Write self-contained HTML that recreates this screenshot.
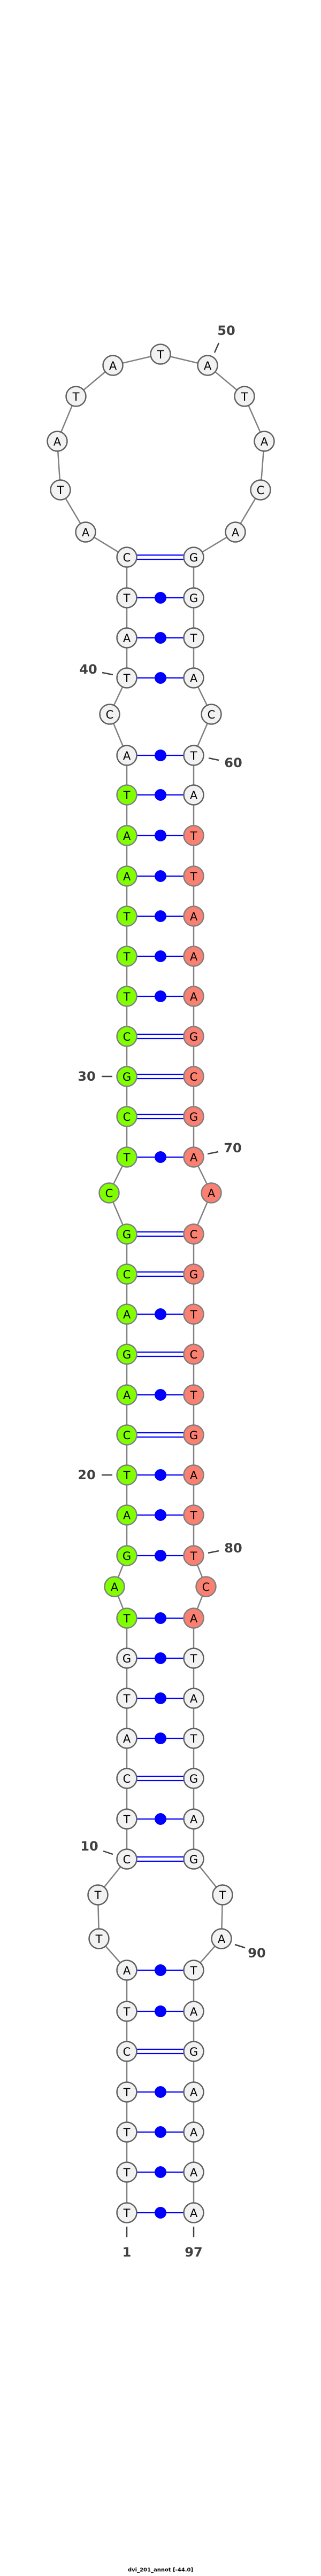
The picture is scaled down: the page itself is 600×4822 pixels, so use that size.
<!DOCTYPE html>
<html><head><meta charset="utf-8"><style>
html,body{margin:0;padding:0;background:#fff}
svg{display:block}
.n{fill:#f2f2f2;stroke:#606060;stroke-width:2.5}
.g{fill:#7fff00;stroke:#808080;stroke-width:2.5}
.s{fill:#fa8072;stroke:#808080;stroke-width:2.5}
.l{font-family:"DejaVu Sans","Liberation Sans",sans-serif;font-size:21px;text-anchor:middle;dominant-baseline:central;fill:#000}
.lb{font-family:"DejaVu Sans","Liberation Sans",sans-serif;font-weight:bold;font-size:24px;text-anchor:middle;dominant-baseline:central;fill:#404040}
.bb{fill:none;stroke:#808080;stroke-width:2.5}
.p{stroke:#0000ff;stroke-width:2.2}
.tk{stroke:#404040;stroke-width:2.5}
</style></head><body>
<svg width="600" height="4822" viewBox="0 0 600 4822" xmlns="http://www.w3.org/2000/svg">
<polyline class="bb" points="237,4142 237,3688 185,3629 183,3547 237,3480 237,3029 214,2970 237,2912 237,2310 204,2233 237,2166 237,1414 205,1337 237,1269 237,1043 160,996 113,917 107,826 142,742 211,684 300,663 388,684 457,742 494,826 487,917 440,996 362,1043 362,1269 395,1337 362,1414 362,2166 395,2233 362,2310 362,2912 385,2970 362,3029 362,3480 416,3547 414,3629 362,3688 362,4142"/>
<g class="p">
<line x1="237" y1="1039" x2="362" y2="1039"/><line x1="237" y1="1047" x2="362" y2="1047"/>
<line x1="237" y1="1119" x2="362" y2="1119"/>
<line x1="237" y1="1194" x2="362" y2="1194"/>
<line x1="237" y1="1269" x2="362" y2="1269"/>
<line x1="237" y1="1414" x2="362" y2="1414"/>
<line x1="237" y1="1488" x2="362" y2="1488"/>
<line x1="237" y1="1564" x2="362" y2="1564"/>
<line x1="237" y1="1640" x2="362" y2="1640"/>
<line x1="237" y1="1715" x2="362" y2="1715"/>
<line x1="237" y1="1790" x2="362" y2="1790"/>
<line x1="237" y1="1865" x2="362" y2="1865"/>
<line x1="237" y1="1936" x2="362" y2="1936"/><line x1="237" y1="1944" x2="362" y2="1944"/>
<line x1="237" y1="2011" x2="362" y2="2011"/><line x1="237" y1="2019" x2="362" y2="2019"/>
<line x1="237" y1="2086" x2="362" y2="2086"/><line x1="237" y1="2094" x2="362" y2="2094"/>
<line x1="237" y1="2166" x2="362" y2="2166"/>
<line x1="237" y1="2306" x2="362" y2="2306"/><line x1="237" y1="2314" x2="362" y2="2314"/>
<line x1="237" y1="2381" x2="362" y2="2381"/><line x1="237" y1="2389" x2="362" y2="2389"/>
<line x1="237" y1="2460" x2="362" y2="2460"/>
<line x1="237" y1="2531" x2="362" y2="2531"/><line x1="237" y1="2539" x2="362" y2="2539"/>
<line x1="237" y1="2611" x2="362" y2="2611"/>
<line x1="237" y1="2682" x2="362" y2="2682"/><line x1="237" y1="2690" x2="362" y2="2690"/>
<line x1="237" y1="2761" x2="362" y2="2761"/>
<line x1="237" y1="2836" x2="362" y2="2836"/>
<line x1="237" y1="2912" x2="362" y2="2912"/>
<line x1="237" y1="3029" x2="362" y2="3029"/>
<line x1="237" y1="3104" x2="362" y2="3104"/>
<line x1="237" y1="3179" x2="362" y2="3179"/>
<line x1="237" y1="3254" x2="362" y2="3254"/>
<line x1="237" y1="3325" x2="362" y2="3325"/><line x1="237" y1="3333" x2="362" y2="3333"/>
<line x1="237" y1="3405" x2="362" y2="3405"/>
<line x1="237" y1="3476" x2="362" y2="3476"/><line x1="237" y1="3484" x2="362" y2="3484"/>
<line x1="237" y1="3688" x2="362" y2="3688"/>
<line x1="237" y1="3765" x2="362" y2="3765"/>
<line x1="237" y1="3836" x2="362" y2="3836"/><line x1="237" y1="3844" x2="362" y2="3844"/>
<line x1="237" y1="3916" x2="362" y2="3916"/>
<line x1="237" y1="3991" x2="362" y2="3991"/>
<line x1="237" y1="4066" x2="362" y2="4066"/>
<line x1="237" y1="4142" x2="362" y2="4142"/>
</g>
<g fill="#0000ff">
<circle cx="300" cy="1119" r="11"/><circle cx="300" cy="1194" r="11"/><circle cx="300" cy="1269" r="11"/>
<circle cx="300" cy="1414" r="11"/><circle cx="300" cy="1488" r="11"/><circle cx="300" cy="1564" r="11"/>
<circle cx="300" cy="1640" r="11"/><circle cx="300" cy="1715" r="11"/><circle cx="300" cy="1790" r="11"/>
<circle cx="300" cy="1865" r="11"/><circle cx="300" cy="2166" r="11"/><circle cx="300" cy="2460" r="11"/>
<circle cx="300" cy="2611" r="11"/><circle cx="300" cy="2761" r="11"/><circle cx="300" cy="2836" r="11"/>
<circle cx="300" cy="2912" r="11"/><circle cx="300" cy="3029" r="11"/><circle cx="300" cy="3104" r="11"/>
<circle cx="300" cy="3179" r="11"/><circle cx="300" cy="3254" r="11"/><circle cx="300" cy="3405" r="11"/>
<circle cx="300" cy="3688" r="11"/><circle cx="300" cy="3765" r="11"/><circle cx="300" cy="3916" r="11"/>
<circle cx="300" cy="3991" r="11"/><circle cx="300" cy="4066" r="11"/><circle cx="300" cy="4142" r="11"/>
</g>
<!-- top loop -->
<g class="n">
<circle cx="160" cy="996" r="18.5"/><circle cx="113" cy="917" r="18.5"/><circle cx="107" cy="826" r="18.5"/>
<circle cx="142" cy="742" r="18.5"/><circle cx="211" cy="684" r="18.5"/><circle cx="300" cy="663" r="18.5"/>
<circle cx="388" cy="684" r="18.5"/><circle cx="457" cy="742" r="18.5"/><circle cx="494" cy="826" r="18.5"/>
<circle cx="487" cy="917" r="18.5"/><circle cx="440" cy="996" r="18.5"/>
<circle cx="237" cy="1043" r="18.5"/><circle cx="362" cy="1043" r="18.5"/>
<circle cx="237" cy="1119" r="18.5"/><circle cx="362" cy="1119" r="18.5"/>
<circle cx="237" cy="1194" r="18.5"/><circle cx="362" cy="1194" r="18.5"/>
<circle cx="237" cy="1269" r="18.5"/><circle cx="362" cy="1269" r="18.5"/>
<circle cx="205" cy="1337" r="18.5"/><circle cx="395" cy="1337" r="18.5"/>
<circle cx="237" cy="1414" r="18.5"/><circle cx="362" cy="1414" r="18.5"/>
<circle cx="362" cy="1488" r="18.5"/>
<circle cx="237" cy="3104" r="18.5"/><circle cx="362" cy="3104" r="18.5"/>
<circle cx="237" cy="3179" r="18.5"/><circle cx="362" cy="3179" r="18.5"/>
<circle cx="237" cy="3254" r="18.5"/><circle cx="362" cy="3254" r="18.5"/>
<circle cx="237" cy="3329" r="18.5"/><circle cx="362" cy="3329" r="18.5"/>
<circle cx="237" cy="3405" r="18.5"/><circle cx="362" cy="3405" r="18.5"/>
<circle cx="237" cy="3480" r="18.5"/><circle cx="362" cy="3480" r="18.5"/>
<circle cx="183" cy="3547" r="18.5"/><circle cx="416" cy="3547" r="18.5"/>
<circle cx="185" cy="3629" r="18.5"/><circle cx="414" cy="3629" r="18.5"/>
<circle cx="237" cy="3688" r="18.5"/><circle cx="362" cy="3688" r="18.5"/>
<circle cx="237" cy="3765" r="18.5"/><circle cx="362" cy="3765" r="18.5"/>
<circle cx="237" cy="3840" r="18.5"/><circle cx="362" cy="3840" r="18.5"/>
<circle cx="237" cy="3916" r="18.5"/><circle cx="362" cy="3916" r="18.5"/>
<circle cx="237" cy="3991" r="18.5"/><circle cx="362" cy="3991" r="18.5"/>
<circle cx="237" cy="4066" r="18.5"/><circle cx="362" cy="4066" r="18.5"/>
<circle cx="237" cy="4142" r="18.5"/><circle cx="362" cy="4142" r="18.5"/>
</g>
<g class="g">
<circle cx="237" cy="1488" r="18.5"/><circle cx="237" cy="1564" r="18.5"/><circle cx="237" cy="1640" r="18.5"/>
<circle cx="237" cy="1715" r="18.5"/><circle cx="237" cy="1790" r="18.5"/><circle cx="237" cy="1865" r="18.5"/>
<circle cx="237" cy="1940" r="18.5"/><circle cx="237" cy="2015" r="18.5"/><circle cx="237" cy="2090" r="18.5"/>
<circle cx="237" cy="2166" r="18.5"/><circle cx="204" cy="2233" r="18.5"/><circle cx="237" cy="2310" r="18.5"/>
<circle cx="237" cy="2385" r="18.5"/><circle cx="237" cy="2460" r="18.5"/><circle cx="237" cy="2535" r="18.5"/>
<circle cx="237" cy="2611" r="18.5"/><circle cx="237" cy="2686" r="18.5"/><circle cx="237" cy="2761" r="18.5"/>
<circle cx="237" cy="2836" r="18.5"/><circle cx="237" cy="2912" r="18.5"/><circle cx="214" cy="2970" r="18.5"/>
<circle cx="237" cy="3029" r="18.5"/>
</g>
<g class="s">
<circle cx="362" cy="1564" r="18.5"/><circle cx="362" cy="1640" r="18.5"/>
<circle cx="362" cy="1715" r="18.5"/><circle cx="362" cy="1790" r="18.5"/><circle cx="362" cy="1865" r="18.5"/>
<circle cx="362" cy="1940" r="18.5"/><circle cx="362" cy="2015" r="18.5"/><circle cx="362" cy="2090" r="18.5"/>
<circle cx="362" cy="2166" r="18.5"/><circle cx="395" cy="2233" r="18.5"/><circle cx="362" cy="2310" r="18.5"/>
<circle cx="362" cy="2385" r="18.5"/><circle cx="362" cy="2460" r="18.5"/><circle cx="362" cy="2535" r="18.5"/>
<circle cx="362" cy="2611" r="18.5"/><circle cx="362" cy="2686" r="18.5"/><circle cx="362" cy="2761" r="18.5"/>
<circle cx="362" cy="2836" r="18.5"/><circle cx="362" cy="2912" r="18.5"/><circle cx="385" cy="2970" r="18.5"/>
<circle cx="362" cy="3029" r="18.5"/>
</g>
<g class="l">
<text x="160" y="997">A</text><text x="113" y="918">T</text><text x="107" y="827">A</text>
<text x="142" y="743">T</text><text x="211" y="685">A</text><text x="300" y="664">T</text>
<text x="388" y="685">A</text><text x="457" y="743">T</text><text x="494" y="827">A</text>
<text x="487" y="918">C</text><text x="440" y="997">A</text>
<text x="237" y="1044">C</text><text x="362" y="1044">G</text>
<text x="237" y="1120">T</text><text x="362" y="1120">G</text>
<text x="237" y="1195">A</text><text x="362" y="1195">T</text>
<text x="237" y="1270">T</text><text x="362" y="1270">A</text>
<text x="205" y="1338">C</text><text x="395" y="1338">C</text>
<text x="237" y="1415">A</text><text x="362" y="1415">T</text>
<text x="237" y="1489">T</text><text x="362" y="1489">A</text>
<text x="237" y="1565">A</text><text x="362" y="1565">T</text>
<text x="237" y="1641">A</text><text x="362" y="1641">T</text>
<text x="237" y="1716">T</text><text x="362" y="1716">A</text>
<text x="237" y="1791">T</text><text x="362" y="1791">A</text>
<text x="237" y="1866">T</text><text x="362" y="1866">A</text>
<text x="237" y="1941">C</text><text x="362" y="1941">G</text>
<text x="237" y="2016">G</text><text x="362" y="2016">C</text>
<text x="237" y="2091">C</text><text x="362" y="2091">G</text>
<text x="237" y="2167">T</text><text x="362" y="2167">A</text>
<text x="204" y="2234">C</text><text x="395" y="2234">A</text>
<text x="237" y="2311">G</text><text x="362" y="2311">C</text>
<text x="237" y="2386">C</text><text x="362" y="2386">G</text>
<text x="237" y="2461">A</text><text x="362" y="2461">T</text>
<text x="237" y="2536">G</text><text x="362" y="2536">C</text>
<text x="237" y="2612">A</text><text x="362" y="2612">T</text>
<text x="237" y="2687">C</text><text x="362" y="2687">G</text>
<text x="237" y="2762">T</text><text x="362" y="2762">A</text>
<text x="237" y="2837">A</text><text x="362" y="2837">T</text>
<text x="237" y="2913">G</text><text x="362" y="2913">T</text>
<text x="214" y="2971">A</text><text x="385" y="2971">C</text>
<text x="237" y="3030">T</text><text x="362" y="3030">A</text>
<text x="237" y="3105">G</text><text x="362" y="3105">T</text>
<text x="237" y="3180">T</text><text x="362" y="3180">A</text>
<text x="237" y="3255">A</text><text x="362" y="3255">T</text>
<text x="237" y="3330">C</text><text x="362" y="3330">G</text>
<text x="237" y="3406">T</text><text x="362" y="3406">A</text>
<text x="237" y="3481">C</text><text x="362" y="3481">G</text>
<text x="183" y="3548">T</text><text x="416" y="3548">T</text>
<text x="185" y="3630">T</text><text x="414" y="3630">A</text>
<text x="237" y="3689">A</text><text x="362" y="3689">T</text>
<text x="237" y="3766">T</text><text x="362" y="3766">A</text>
<text x="237" y="3841">C</text><text x="362" y="3841">G</text>
<text x="237" y="3917">T</text><text x="362" y="3917">A</text>
<text x="237" y="3992">T</text><text x="362" y="3992">A</text>
<text x="237" y="4067">T</text><text x="362" y="4067">A</text>
<text x="237" y="4143">T</text><text x="362" y="4143">A</text>
</g>
<g class="tk">
<line x1="409" y1="642" x2="401" y2="660"/>
<line x1="191" y1="1259" x2="211" y2="1263"/>
<line x1="390" y1="1419" x2="409" y2="1423"/>
<line x1="190" y1="2015" x2="210" y2="2015"/>
<line x1="388" y1="2160" x2="408" y2="2156"/>
<line x1="190" y1="2761" x2="210" y2="2761"/>
<line x1="389" y1="2907" x2="409" y2="2903"/>
<line x1="193" y1="3465" x2="211" y2="3471"/>
<line x1="439" y1="3640" x2="458" y2="3646"/>
<line x1="237" y1="4168" x2="237" y2="4188"/>
<line x1="362" y1="4168" x2="362" y2="4188"/>
</g>
<g class="lb">
<text x="423" y="619">50</text>
<text x="165" y="1253">40</text>
<text x="436" y="1428">60</text>
<text x="162" y="2015">30</text>
<text x="435" y="2149">70</text>
<text x="162" y="2761">20</text>
<text x="436" y="2898">80</text>
<text x="167" y="3456">10</text>
<text x="480" y="3656">90</text>
<text x="237" y="4216">1</text>
<text x="362" y="4216">97</text>
</g>
<text x="300" y="4811" text-anchor="middle" dominant-baseline="central" font-family="'DejaVu Sans','Liberation Sans',sans-serif" font-weight="bold" font-size="10" fill="#000">dvi_201_annot [-44.0]</text>
</svg>
</body></html>
